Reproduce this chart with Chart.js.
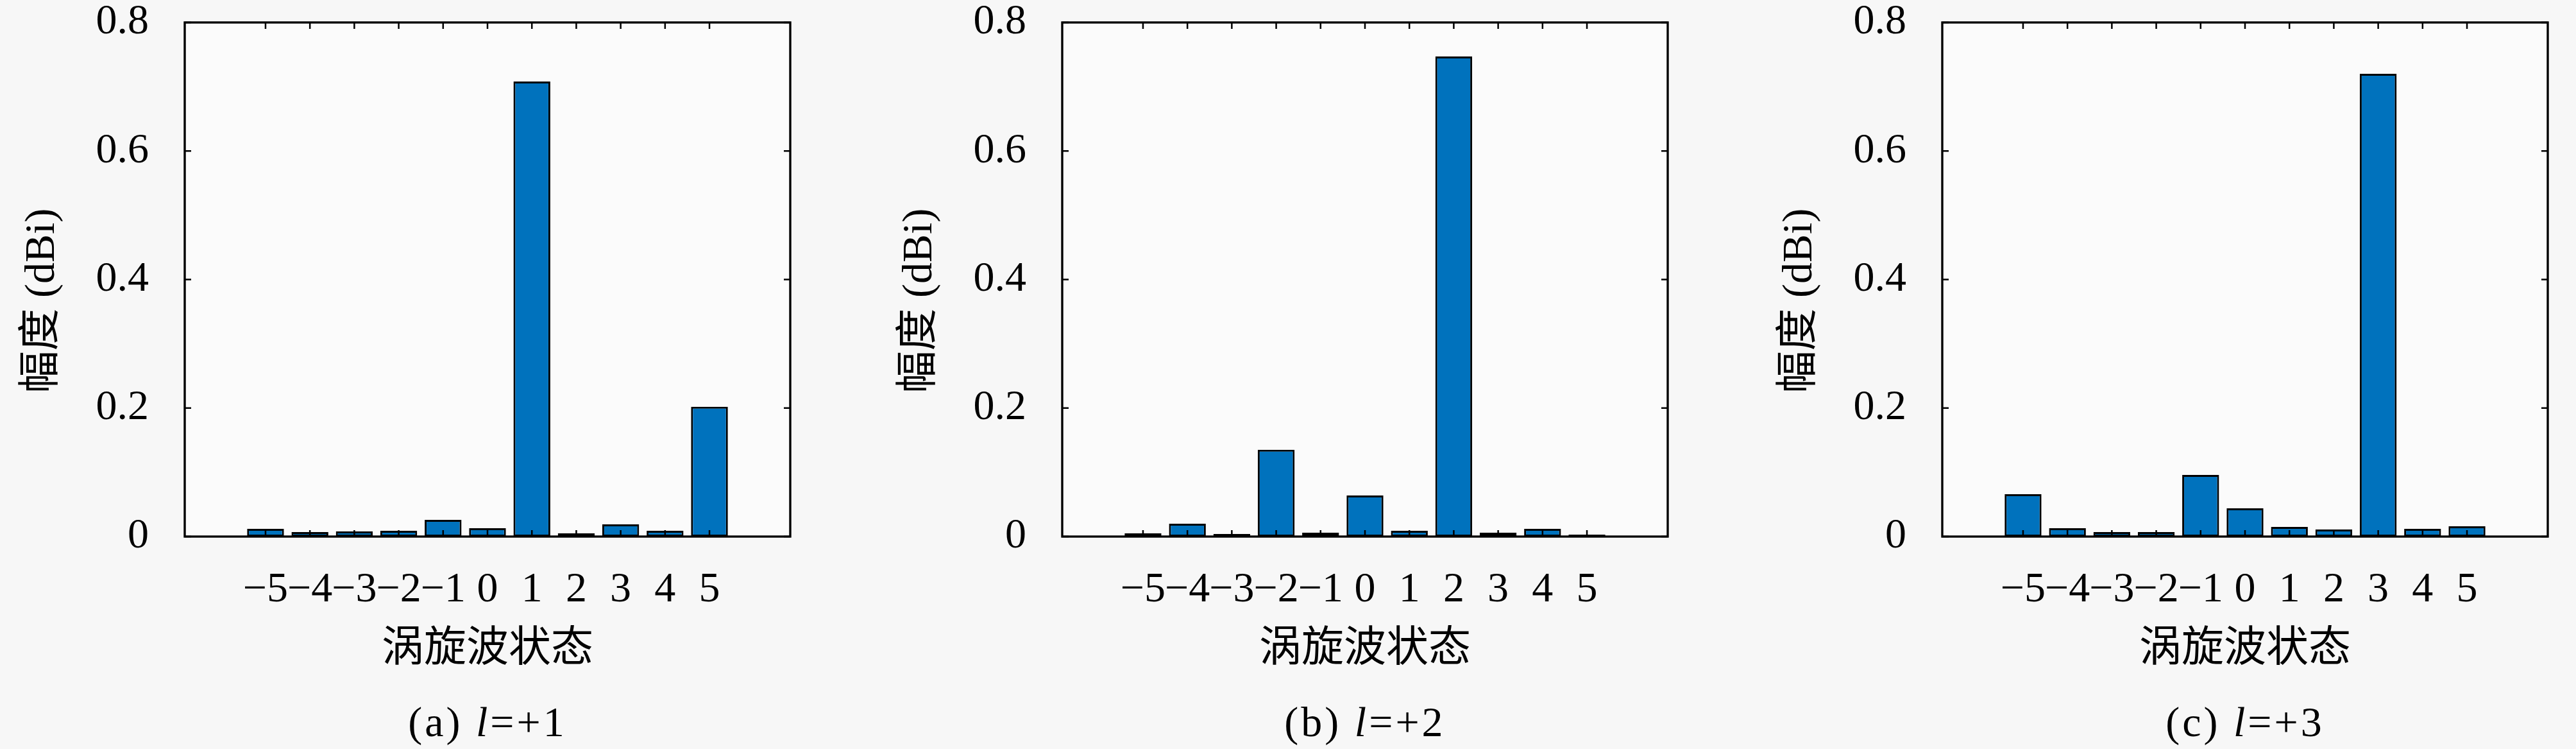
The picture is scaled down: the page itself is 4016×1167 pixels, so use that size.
<!DOCTYPE html>
<html>
<head>
<meta charset="utf-8">
<script src="https://cdn.jsdelivr.net/npm/chart.js@4.4.1/dist/chart.umd.min.js"></script>
<style>
  html, body { margin: 0; padding: 0; background: #f7f7f7; }
  #wrap { position: relative; width: 4016px; height: 1167px; overflow: hidden; background: #f7f7f7; }
  canvas { position: absolute; top: 0; }
  .cap { position: absolute; top: 1092px; width: 600px; text-align: center;
         font-family: "Liberation Serif", serif; font-size: 66px; line-height: 1; color: #000; letter-spacing: 4px; }
</style>
</head>
<body>
<div id="wrap">
  <canvas id="c1" width="1270" height="1167" style="left:0px"></canvas>
  <canvas id="c2" width="1270" height="1167" style="left:1368px"></canvas>
  <canvas id="c3" width="1270" height="1167" style="left:2740px"></canvas>
  <div class="cap" style="left:460px">(a) <i>l</i>=+1</div>
  <div class="cap" style="left:1828px">(b) <i>l</i>=+2</div>
  <div class="cap" style="left:3200px">(c) <i>l</i>=+3</div>
</div>
<script>
// ---- data ----
const states = [-5, -4, -3, -2, -1, 0, 1, 2, 3, 4, 5];
const stateLabels = ['\u22125', '\u22124', '\u22123', '\u22122', '\u22121', '0', '1', '2', '3', '4', '5'];
const ampL1 = [0.012, 0.007, 0.008, 0.009, 0.026, 0.013, 0.708, 0.005, 0.019, 0.009, 0.202];
const ampL2 = [0.005, 0.020, 0.004, 0.135, 0.006, 0.064, 0.009, 0.747, 0.006, 0.012, 0.003];
const ampL3 = [0.066, 0.013, 0.007, 0.007, 0.096, 0.044, 0.015, 0.011, 0.720, 0.012, 0.016];
const yTicks = [0, 0.2, 0.4, 0.6, 0.8];
const yTickLabels = ['0', '0.2', '0.4', '0.6', '0.8'];
const yTitle = '幅度 (dBi)';
const xTitle = '涡旋波状态';

const FONT = '"Liberation Serif", "Noto Sans CJK SC", serif';

const boxPlugin = {
  id: 'boxTicks',
  beforeDraw(chart) {
    const {ctx, chartArea: a} = chart;
    ctx.save();
    ctx.fillStyle = '#fbfbfb';
    ctx.fillRect(a.left, a.top, a.right - a.left, a.bottom - a.top);
    ctx.restore();
  },
  afterDatasetsDraw(chart) {
    const {ctx, chartArea: a, scales: {x, y}} = chart;
    const tl = 10;
    ctx.save();
    ctx.strokeStyle = '#000';
    ctx.lineWidth = 2.5;
    ctx.beginPath();
    states.forEach(v => {
      const px = x.getPixelForValue(v);
      ctx.moveTo(px, a.bottom); ctx.lineTo(px, a.bottom - tl);
      ctx.moveTo(px, a.top); ctx.lineTo(px, a.top + tl);
    });
    yTicks.forEach(v => {
      const py = y.getPixelForValue(v);
      ctx.moveTo(a.left, py); ctx.lineTo(a.left + tl, py);
      ctx.moveTo(a.right, py); ctx.lineTo(a.right - tl, py);
    });
    ctx.stroke();
    ctx.lineWidth = 3.4;
    ctx.strokeRect(a.left, a.top, a.right - a.left, a.bottom - a.top);
    ctx.restore();
  }
};

function makeChart(id, values) {
  new Chart(document.getElementById(id), {
    type: 'bar',
    data: {
      datasets: [{
        data: states.map((s, i) => ({x: s, y: values[i]})),
        backgroundColor: '#0072BD',
        borderColor: '#000000',
        borderWidth: 3,
        borderSkipped: false,
        categoryPercentage: 1.0,
        barPercentage: 0.83
      }]
    },
    options: {
      responsive: false,
      animation: false,
      devicePixelRatio: 1,
      layout: { padding: { top: 35, left: 0, right: 38, bottom: 0 } },
      plugins: { legend: { display: false }, tooltip: { enabled: false }, title: { display: false } },
      scales: {
        x: {
          type: 'linear',
          min: -6.2, max: 6.2,
          grid: { display: false },
          border: { display: false },
          afterBuildTicks: s => { s.ticks = states.map(v => ({value: v})); },
          afterFit: s => { s.height = 331; s.paddingLeft = 0; s.paddingRight = 0; },
          ticks: {
            autoSkip: false, maxRotation: 0, minRotation: 0,
            padding: 36,
            color: '#000',
            font: { family: FONT, size: 66 },
            callback: (v) => { const i = states.indexOf(v); return i >= 0 ? stateLabels[i] : ''; }
          },
          title: {
            display: true, text: xTitle, color: '#000',
            font: { family: FONT, size: 66 },
            padding: { top: 0, bottom: 115 }
          }
        },
        y: {
          type: 'linear',
          min: 0, max: 0.8,
          grid: { display: false },
          border: { display: false },
          afterBuildTicks: s => { s.ticks = yTicks.map(v => ({value: v})); },
          afterFit: s => { s.width = 288; s.paddingTop = 0; s.paddingBottom = 0; },
          ticks: {
            padding: 48,
            color: '#000',
            font: { family: FONT, size: 66 },
            callback: (v) => { const i = yTicks.indexOf(v); return i >= 0 ? yTickLabels[i] : ''; }
          },
          title: {
            display: true, text: yTitle + '\u2003', color: '#000',
            font: { family: FONT, size: 66 },
            padding: { top: 27, bottom: 0 }
          }
        }
      }
    },
    plugins: [boxPlugin]
  });
}

function build() {
  makeChart('c1', ampL1);
  makeChart('c2', ampL2);
  makeChart('c3', ampL3);
}

Promise.all([
  document.fonts.load('66px "Liberation Serif"', '0.8\u22125'),
  document.fonts.load('66px "Noto Sans CJK SC"', '幅度涡旋波状态')
]).then(build, build);
</script>
</body>
</html>
